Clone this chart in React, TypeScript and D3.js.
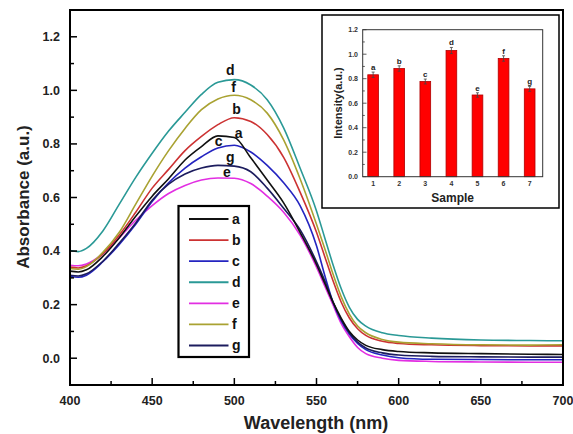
import React from "react";
import * as d3 from "d3";

const wavelengths = [400, 405, 410, 420, 430, 440, 450, 460, 470, 480, 490, 500, 510, 520, 530, 540, 550, 555, 560, 565, 570, 575, 580, 590, 600, 620, 650, 680, 700];

const seriesA = [0.325, 0.322, 0.33, 0.38, 0.45, 0.53, 0.605, 0.67, 0.74, 0.79, 0.83, 0.824, 0.748, 0.665, 0.58, 0.47, 0.35, 0.28, 0.21, 0.15, 0.1, 0.068, 0.048, 0.032, 0.025, 0.02, 0.017, 0.015, 0.014];
const seriesB = [0.34, 0.337, 0.345, 0.39, 0.46, 0.545, 0.635, 0.705, 0.775, 0.828, 0.872, 0.898, 0.884, 0.835, 0.75, 0.62, 0.47, 0.38, 0.29, 0.21, 0.15, 0.11, 0.085, 0.063, 0.055, 0.05, 0.047, 0.046, 0.046];
const seriesC = [0.305, 0.302, 0.31, 0.36, 0.425, 0.5, 0.585, 0.655, 0.71, 0.752, 0.785, 0.795, 0.77, 0.72, 0.655, 0.57, 0.42, 0.31, 0.21, 0.14, 0.09, 0.055, 0.032, 0.012, 0.002, -0.004, -0.005, -0.006, -0.006];
const seriesD = [0.402, 0.398, 0.41, 0.475, 0.575, 0.675, 0.765, 0.848, 0.918, 0.985, 1.03, 1.04, 1.02, 0.965, 0.86, 0.71, 0.55, 0.45, 0.35, 0.26, 0.19, 0.145, 0.12, 0.095, 0.085, 0.075, 0.068, 0.066, 0.065];
const seriesE = [0.347, 0.345, 0.352, 0.39, 0.45, 0.515, 0.57, 0.615, 0.645, 0.665, 0.673, 0.672, 0.652, 0.605, 0.545, 0.46, 0.34, 0.27, 0.2, 0.13, 0.08, 0.04, 0.017, 0.0, -0.008, -0.012, -0.014, -0.015, -0.015];
const seriesF = [0.335, 0.332, 0.342, 0.395, 0.47, 0.575, 0.68, 0.775, 0.858, 0.928, 0.968, 0.982, 0.965, 0.915, 0.815, 0.67, 0.5, 0.41, 0.315, 0.23, 0.165, 0.12, 0.095, 0.07, 0.06, 0.054, 0.05, 0.049, 0.05];
const seriesG = [0.31, 0.307, 0.315, 0.362, 0.43, 0.505, 0.59, 0.65, 0.688, 0.71, 0.72, 0.717, 0.696, 0.635, 0.56, 0.48, 0.36, 0.29, 0.21, 0.145, 0.095, 0.06, 0.038, 0.02, 0.012, 0.007, 0.005, 0.004, 0.004];

const seriesNames = ["a", "b", "c", "d", "e", "f", "g"];
const seriesColors = ["#111111", "#cc3232", "#2424c0", "#2a9996", "#e22ee2", "#a9a232", "#1c1c5e"];
const seriesValues = [seriesA, seriesB, seriesC, seriesD, seriesE, seriesF, seriesG];

// peak label anchor positions (wavelength, absorbance)
const peakLabelW = [502.6, 501.4, 490.4, 497.6, 495.5, 499.6, 497.6];
const peakLabelV = [0.84, 0.93, 0.812, 1.075, 0.695, 1.012, 0.752];

const xTicksMajor = [400, 450, 500, 550, 600, 650, 700];
const xTicksMinor = [425, 475, 525, 575, 625, 675];
const yTicksMajor = [0.0, 0.2, 0.4, 0.6, 0.8, 1.0, 1.2];
const yTicksMinor = [0.1, 0.3, 0.5, 0.7, 0.9, 1.1];

// inset
const samples = [1, 2, 3, 4, 5, 6, 7];
const intensities = [0.832, 0.883, 0.777, 1.03, 0.667, 0.965, 0.717];
const intensityErr = [0.022, 0.022, 0.02, 0.025, 0.018, 0.022, 0.02];
const barLetters = ["a", "b", "c", "d", "e", "f", "g"];
const insetYMajor = [0.0, 0.2, 0.4, 0.6, 0.8, 1.0, 1.2];
const insetYMinor = [0.1, 0.3, 0.5, 0.7, 0.9, 1.1];

const FONT = "'Liberation Sans', Arial, Helvetica, sans-serif";

export default function App() {
  const x = d3.scaleLinear().domain([400, 700]).range([70, 563]);
  const y = d3.scaleLinear().domain([-0.1, 1.3]).range([385, 10]);

  const line = d3
    .line<[number, number]>()
    .x((p) => x(p[0]))
    .y((p) => y(p[1]))
    .curve(d3.curveMonotoneX);

  const order = [4, 2, 6, 0, 1, 5, 3];

  const legendY = d3.scalePoint<string>().domain(seriesNames).range([219, 345.5]);

  const ix = d3.scaleLinear().domain([0.6, 7.5]).range([362.7, 542.7]);
  const iy = d3.scaleLinear().domain([0, 1.2]).range([176.7, 29.7]);
  const barW = ix(1.41) - ix(1);

  return (
    <svg
      width={573}
      height={434}
      style={{ position: "fixed", left: 0, top: 0, background: "#fff" }}
      fontFamily={FONT}
    >
      <rect x={0} y={0} width={573} height={434} fill="#fff" />

      {/* curves */}
      <g fill="none" strokeWidth={1.6}>
        {order.map((i) => (
          <path
            key={seriesNames[i]}
            d={line(wavelengths.map((w, k) => [w, seriesValues[i][k]] as [number, number])) || ""}
            stroke={seriesColors[i]}
          />
        ))}
      </g>

      {/* peak labels */}
      <g fontSize={14} fontWeight="bold" fill="#111" textAnchor="middle">
        {seriesNames.map((n, i) => (
          <text key={n} x={x(peakLabelW[i])} y={y(peakLabelV[i])} dy="0.35em">
            {n}
          </text>
        ))}
      </g>

      {/* axes frame */}
      <rect x={70} y={10} width={493} height={375} fill="none" stroke="#000" strokeWidth={2} />

      {/* ticks */}
      <g stroke="#000" strokeWidth={1.5}>
        {yTicksMajor.map((t) => (
          <line key={"ym" + t} x1={70} x2={77} y1={y(t)} y2={y(t)} />
        ))}
        {yTicksMinor.map((t) => (
          <line key={"yn" + t} x1={70} x2={74} y1={y(t)} y2={y(t)} />
        ))}
        {xTicksMajor.map((t) => (
          <line key={"xm" + t} x1={x(t)} x2={x(t)} y1={385} y2={378} />
        ))}
        {xTicksMinor.map((t) => (
          <line key={"xn" + t} x1={x(t)} x2={x(t)} y1={385} y2={381} />
        ))}
      </g>

      <g fontSize={12.5} fontWeight="bold" fill="#222">
        {yTicksMajor.map((t) => (
          <text key={"yl" + t} x={60} y={y(t)} dy="0.35em" textAnchor="end">
            {t.toFixed(1)}
          </text>
        ))}
        {xTicksMajor.map((t) => (
          <text key={"xl" + t} x={x(t)} y={401} dy="0.35em" textAnchor="middle">
            {t}
          </text>
        ))}
      </g>

      <text
        x={316}
        y={423}
        dy="0.35em"
        textAnchor="middle"
        fontSize={18}
        fontWeight="bold"
        fill="#222"
      >
        Wavelength (nm)
      </text>
      <text
        transform={`translate(23,${197}) rotate(-90)`}
        textAnchor="middle"
        dy="0.35em"
        fontSize={17}
        fontWeight="bold"
        fill="#222"
      >
        Absorbance (a.u.)
      </text>

      {/* legend */}
      <rect x={178.5} y={206} width={70.5} height={151} fill="#fff" stroke="#000" strokeWidth={2.2} />
      {seriesNames.map((n, i) => (
        <g key={"lg" + n}>
          <line
            x1={189}
            x2={228.5}
            y1={legendY(n)}
            y2={legendY(n)}
            stroke={seriesColors[i]}
            strokeWidth={1.8}
          />
          <text x={232} y={legendY(n)} dy="0.35em" fontSize={14} fontWeight="bold" fill="#111">
            {n}
          </text>
        </g>
      ))}

      {/* inset */}
      <rect x={322} y={15} width={237} height={193} fill="#fff" stroke="#000" strokeWidth={1.5} />
      {samples.map((s, i) => (
        <g key={"bar" + s}>
          <rect
            x={ix(s) - barW / 2}
            y={iy(intensities[i])}
            width={barW}
            height={iy(0) - iy(intensities[i])}
            fill="#ff0000"
            stroke="#b00000"
            strokeWidth={0.8}
          />
          <line
            x1={ix(s)}
            x2={ix(s)}
            y1={iy(intensities[i] - intensityErr[i])}
            y2={iy(intensities[i] + intensityErr[i])}
            stroke="#444"
            strokeWidth={0.8}
          />
          <line
            x1={ix(s) - 1.5}
            x2={ix(s) + 1.5}
            y1={iy(intensities[i] + intensityErr[i])}
            y2={iy(intensities[i] + intensityErr[i])}
            stroke="#444"
            strokeWidth={0.8}
          />
          <line
            x1={ix(s) - 1.5}
            x2={ix(s) + 1.5}
            y1={iy(intensities[i] - intensityErr[i])}
            y2={iy(intensities[i] - intensityErr[i])}
            stroke="#444"
            strokeWidth={0.8}
          />
          <text
            x={ix(s)}
            y={iy(intensities[i] + intensityErr[i]) - 2}
            textAnchor="middle"
            fontSize={8}
            fontWeight="bold"
            fill="#222"
          >
            {barLetters[i]}
          </text>
        </g>
      ))}
      <rect x={362.7} y={29.7} width={180} height={147} fill="none" stroke="#333" strokeWidth={1} />
      <g stroke="#333" strokeWidth={0.8}>
        {insetYMajor.map((t) => (
          <line key={"iym" + t} x1={362.7} x2={366.5} y1={iy(t)} y2={iy(t)} />
        ))}
        {insetYMinor.map((t) => (
          <line key={"iyn" + t} x1={362.7} x2={364.8} y1={iy(t)} y2={iy(t)} />
        ))}
      </g>
      <g fontSize={7} fontWeight="bold" fill="#333">
        {insetYMajor.map((t) => (
          <text key={"iyl" + t} x={358} y={iy(t)} dy="0.35em" textAnchor="end">
            {t.toFixed(1)}
          </text>
        ))}
        {samples.map((s) => (
          <text key={"ixl" + s} x={ix(s)} y={184} dy="0.35em" textAnchor="middle">
            {s}
          </text>
        ))}
      </g>
      <text x={452.7} y={197.5} dy="0.35em" textAnchor="middle" fontSize={12} fontWeight="bold" fill="#222">
        Sample
      </text>
      <text
        transform={`translate(338,103) rotate(-90)`}
        textAnchor="middle"
        dy="0.35em"
        fontSize={11}
        fontWeight="bold"
        fill="#222"
      >
        Intensity(a.u.)
      </text>
    </svg>
  );
}
